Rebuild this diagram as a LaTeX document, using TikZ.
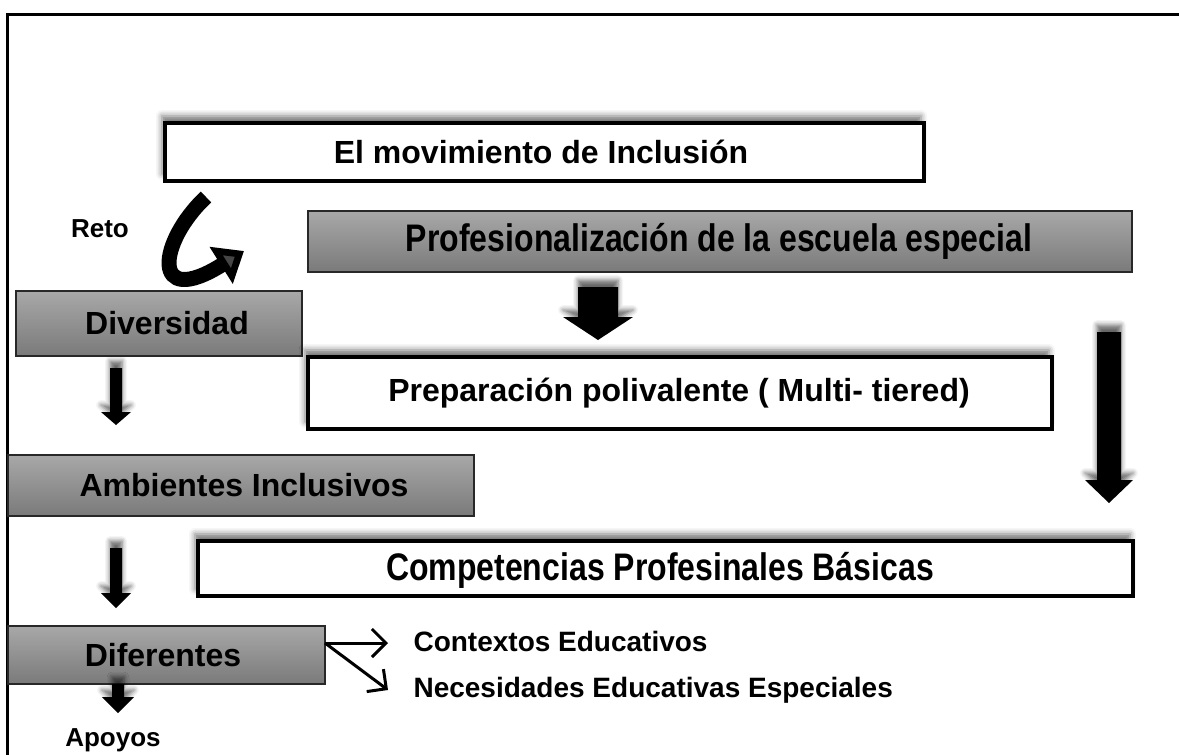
\documentclass[tikz,border=0pt]{standalone}
\usepackage{fontspec}
\setmainfont{Liberation Sans}
\usetikzlibrary{arrows.meta,shadows.blur,calc}
\begin{document}
\begin{tikzpicture}[x=1pt,y=-1pt,
  big/.style={font=\bfseries\fontsize{32}{37}\selectfont},
  small/.style={font=\bfseries\fontsize{26}{30}\selectfont},
  mid/.style={font=\bfseries\fontsize{28}{32}\selectfont},
  whitebox/.style={draw=black,line width=4pt,fill=white,inner sep=0pt,
     blur shadow={shadow xshift=-3pt,shadow yshift=7pt,shadow blur radius=6pt,shadow opacity=55}},
  graybox/.style={draw={rgb,255:red,40;green,40;blue,40},line width=1.2pt,inner sep=0pt,
     top color={rgb,255:red,168;green,168;blue,168},bottom color={rgb,255:red,122;green,122;blue,122}},
  blockarrow/.style={fill=black,draw=none,
     blur shadow={shadow xshift=0pt,shadow yshift=7pt,shadow blur radius=5pt,shadow opacity=60}},
  thinarrow/.style={line width=3pt,-{Straight Barb[length=14pt,width=28pt,line width=3pt]}},
]
\useasboundingbox (0,0) rectangle (1179,755);
% frame
\draw[line width=3pt] (7,760) -- (7,14) -- (1185,14);

% boxes
\path[whitebox] (165,123) rectangle (924,181);
\node[big] (mov) at (541,152) {El movimiento de Inclusión};

\path[graybox] (308,211) rectangle (1132,272);
\node[big] (prof) at (719,241.5) {\scalebox{1}[1.2]{Profesionalización de la escuela especial}};

\path[graybox] (16,291) rectangle (302,356);
\node[big] (div) at (167,323.5) {Diversidad};

\path[whitebox] (308,357) rectangle (1052,429);
\node[big] (prep) at (679,393) {Preparación polivalente ( Multi- tiered)};

\path[graybox] (8,455) rectangle (474,516);
\node[big] (amb) at (244,485.5) {Ambientes Inclusivos};

\path[whitebox] (198,541) rectangle (1133,596);
\node[big] (comp) at (660,570) {\scalebox{1}[1.2]{Competencias Profesinales Básicas}};

\path[graybox] (8,626) rectangle (325,684);
\node[big] (dif) at (163,655) {Diferentes};

% labels
\node[small] (reto) at (100,229) {Reto};
\node[small] (apoyos) at (113,740) {Apoyos};
\node[mid,anchor=west] (ctx) at (410,641) {Contextos Educativos};
\node[mid,anchor=west] (nee) at (410,690) {Necesidades Educativas Especiales};

% curved arrow
\draw[line width=15pt,-{Triangle[length=27pt,width=42pt]}]
  (206,197) .. controls (158,242) and (150,310) .. (244,251);

% block arrows (x-center, shaft half width, head half width, top, head start, tip)
\newcommand{\blockdown}[6]{%
  \path[blockarrow] (#1-#2,#4) -- (#1+#2,#4) -- (#1+#2,#5) -- (#1+#3,#5) -- (#1,#6)
     -- (#1-#3,#5) -- (#1-#2,#5) -- cycle;}
\blockdown{598}{20}{35}{287}{317}{340}
\blockdown{1109}{12}{24}{332}{480}{503}
\blockdown{116}{6}{15}{368}{412}{425}
\blockdown{116}{6}{15}{548}{593}{608}
\blockdown{118}{6}{16}{684}{697}{713}

% thin arrows
\coordinate (d1) at (325,643);
\draw[thinarrow] (d1) -- (388,643);
\draw[thinarrow] (d1) -- (388,690);
\end{tikzpicture}
\end{document}
